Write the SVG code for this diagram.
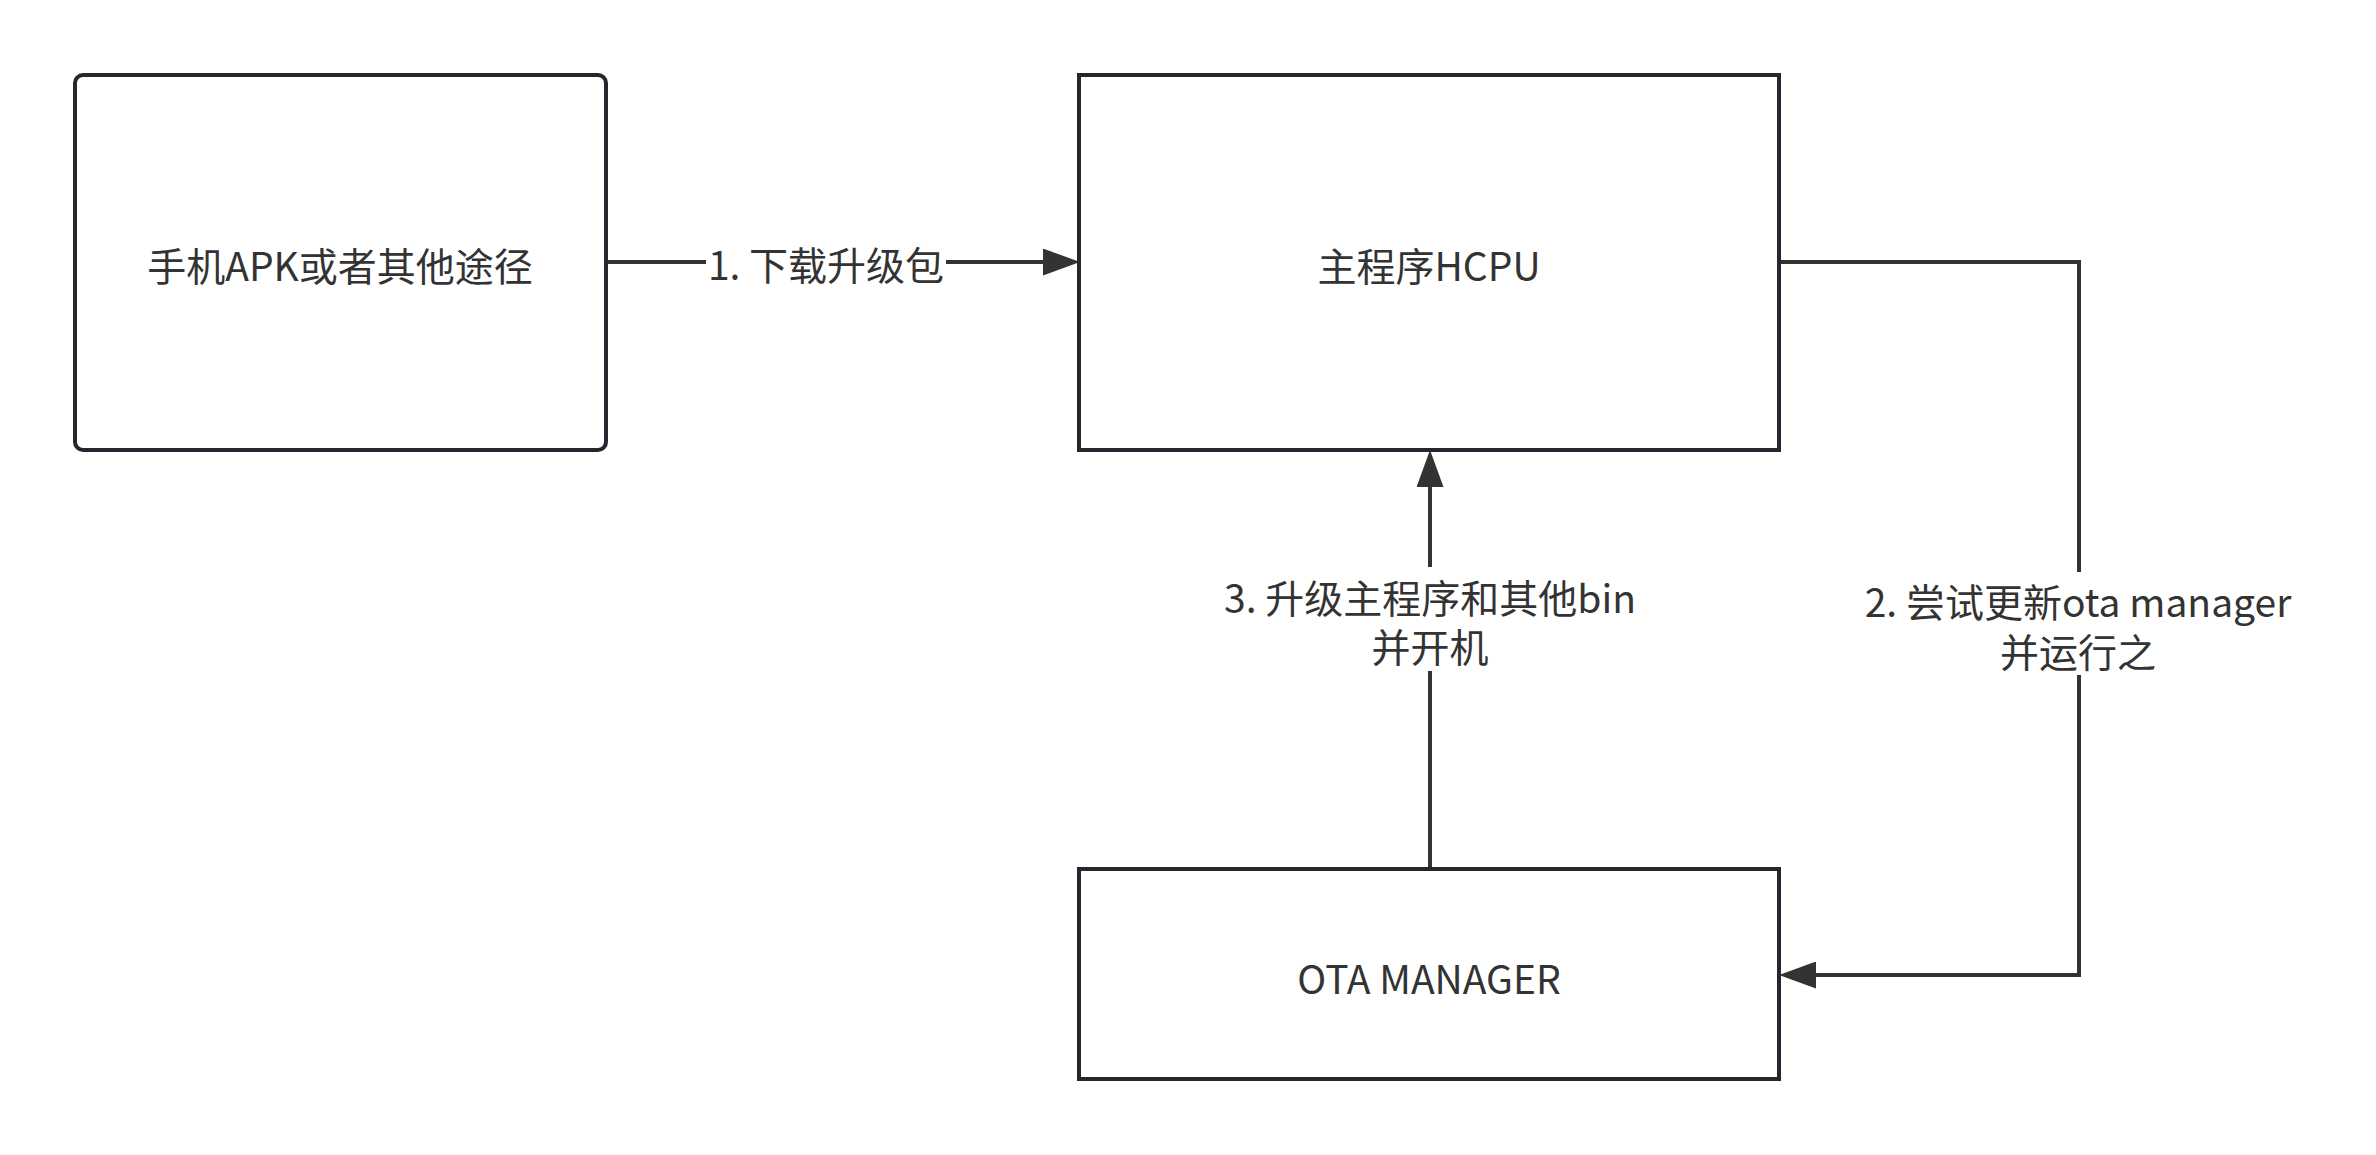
<svg xmlns="http://www.w3.org/2000/svg" width="2376" height="1155" viewBox="0 0 2376 1155">
<style>
.node{fill:#ffffff;stroke:#23282e;stroke-width:4}
.edge{fill:none;stroke:#333333;stroke-width:4}
.t{font-family:"Microsoft YaHei","Noto Sans CJK SC","Noto Sans",sans-serif;font-size:39px;fill:#333333;text-anchor:middle;dominant-baseline:central}
.bg{fill:#ffffff}
</style>
<defs>
<marker id="arr" markerUnits="userSpaceOnUse" markerWidth="37" markerHeight="27" refX="0" refY="13.5" orient="auto">
<path d="M0,0 L37,13.5 L0,27 z" fill="#333333"/>
</marker>
</defs>
<rect width="2376" height="1155" fill="#ffffff"/>
<g id="connectors">
<g id="e1">
<path class="edge" d="M606,262 H1043" marker-end="url(#arr)"/>
<rect class="bg" x="706" y="238" width="240" height="48"/>
<text class="t" x="826" y="263">1. 下载升级包</text>
</g>
<g id="e2">
<path class="edge" d="M1779,262 H2079 V975 H1816" marker-end="url(#arr)"/>
<rect class="bg" x="1850" y="572" width="460" height="103"/>
<text class="t" x="2078" y="600">2. 尝试更新ota manager</text>
<text class="t" x="2078" y="650">并运行之</text>
</g>
<g id="e3">
<path class="edge" d="M1430,869 V487" marker-end="url(#arr)"/>
<rect class="bg" x="1215" y="567" width="430" height="104"/>
<text class="t" x="1430" y="596">3. 升级主程序和其他bin</text>
<text class="t" x="1430" y="645">并开机</text>
</g>
</g>
<g id="n1">
<rect class="node" x="75" y="75" width="531" height="375" rx="8"/>
<text class="t" x="340" y="264">手机APK或者其他途径</text>
</g>
<g id="n2">
<rect class="node" x="1079" y="75" width="700" height="375"/>
<text class="t" x="1429" y="264">主程序HCPU</text>
</g>
<g id="n3">
<rect class="node" x="1079" y="869" width="700" height="210"/>
<text class="t" x="1429" y="977">OTA MANAGER</text>
</g>
</svg>
